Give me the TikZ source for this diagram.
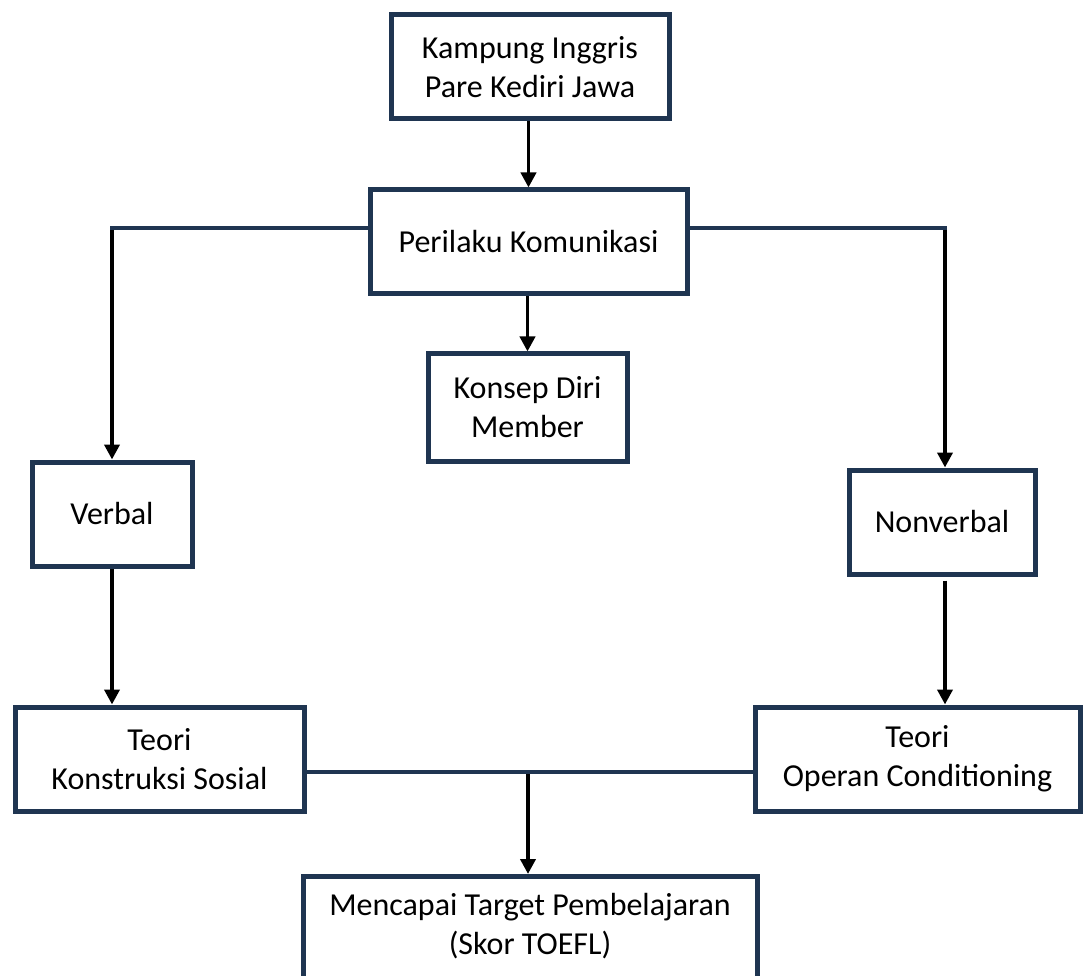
\documentclass[tikz,border=0pt]{standalone}
\usepackage{fontspec}
\setmainfont{Carlito}
\usetikzlibrary{arrows.meta}
\definecolor{navy}{HTML}{1F3551}
\tikzset{
  box/.style={draw=navy, line width=5pt, fill=white, inner sep=0pt, align=center,
    font=\fontsize{32}{39}\selectfont, text=black},
  arr/.style={draw=black, line width=3.8pt, -{Triangle[length=15pt,width=15pt]}},
  hline/.style={draw=navy, line width=4.5pt},
}
\begin{document}
\begin{tikzpicture}[x=1pt,y=-1pt]
\useasboundingbox (0,0) rectangle (1085,976);
\clip (0,0) rectangle (1085,976);
\fill[white] (0,0) rectangle (1085,976);

\node[box, minimum width=278pt, minimum height=104pt] (kampung) at (530,67) {Kampung Inggris\\Pare Kediri Jawa};
\node[box, minimum width=317pt, minimum height=104pt] (perilaku) at (528.5,242) {Perilaku Komunikasi};
\node[box, minimum width=199pt, minimum height=107pt] (konsep) at (527.5,407.5) {Konsep Diri\\Member};
\node[box, minimum width=160pt, minimum height=104pt] (verbal) at (112,514) {Verbal};
\node[box, minimum width=186pt, minimum height=104pt] (nonverbal) at (942,522) {Nonverbal};
\node[box, minimum width=289pt, minimum height=104pt] (tks) at (159.5,759) {Teori\\Konstruksi Sosial};
\node[box, minimum width=325pt, minimum height=104pt] (toc) at (917.5,759) {Teori\\Operan Conditioning};
\node[box, minimum width=454pt, minimum height=108pt, anchor=north] (target) at (530,874) {};
\node[font=\fontsize{32}{39}\selectfont, align=center, inner sep=0pt] (targettext) at (530,926) {Mencapai Target Pembelajaran\\(Skor TOEFL)};

\coordinate (lcorner) at (112,228);
\coordinate (rcorner) at (945,228);
\coordinate (mid) at (528,772);

% top chain
\draw[arr] (kampung.south -| perilaku.north) -- (perilaku.north);
\draw[arr] (perilaku.south -| konsep.north) -- (konsep.north);

% branches
\draw[hline] (perilaku.west |- lcorner) -- ([xshift=-2pt]lcorner);
\draw[arr] ([yshift=-2pt]lcorner) -- (lcorner |- verbal.north);
\draw[hline] (perilaku.east |- rcorner) -- ([xshift=2pt]rcorner);
\draw[arr] ([yshift=-2pt]rcorner) -- (rcorner |- nonverbal.north);

\draw[arr] (verbal.south) -- (verbal.south |- tks.north);
\draw[arr] ([yshift=-4pt]rcorner |- nonverbal.south) -- (rcorner |- toc.north);

% join
\draw[hline] (tks.east |- mid) -- (toc.west |- mid);
\draw[arr] ([yshift=-2pt]mid) -- (mid |- target.north);
\end{tikzpicture}
\end{document}
